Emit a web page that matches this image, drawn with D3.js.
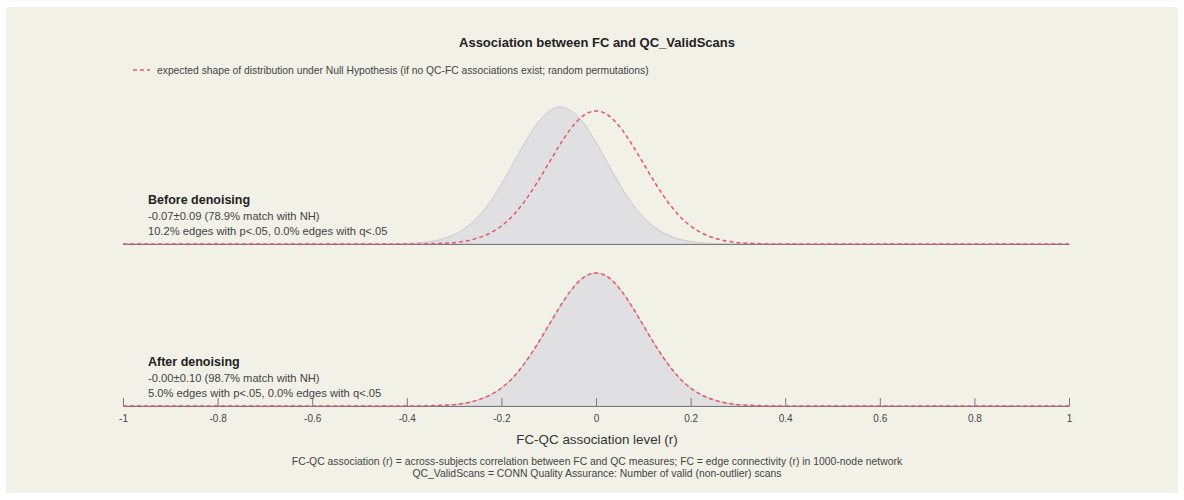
<!DOCTYPE html>
<html>
<head>
<meta charset="utf-8">
<script src="https://cdn.jsdelivr.net/npm/d3@7"></script>
<style>
  body { margin: 0; background: #fff; }
  text { font-family: "Liberation Sans", Arial, Helvetica, sans-serif; }
</style>
</head>
<body>
<div id="chart-area"></div>
<script>
// FC-QC association values (r) where the curves were read
const xGrid = [-1,
  -0.45, -0.425, -0.4, -0.375, -0.35, -0.325, -0.3, -0.275, -0.25, -0.225, -0.2, -0.175, -0.15,
  -0.125, -0.1, -0.075, -0.05, -0.025, 0, 0.025, 0.05, 0.075, 0.1, 0.125, 0.15, 0.175, 0.2,
  0.225, 0.25, 0.275, 0.3, 0.325, 0.35, 0.375, 0.4, 0.425, 0.45,
  1];

// null hypothesis shape (red dashed), same in both panels
const nullShape = [0,
  0, 0, 0, 0, 0.01, 0.02, 0.04, 0.09, 0.18, 0.32, 0.54, 0.86, 1.30,
  1.83, 2.42, 3.01, 3.52, 3.87, 3.99, 3.87, 3.52, 3.01, 2.42, 1.83, 1.30, 0.86, 0.54,
  0.32, 0.18, 0.09, 0.04, 0.02, 0.01, 0, 0, 0, 0,
  0];

// before denoising (grey)
const beforeShape = [0,
  0.002, 0.006, 0.015, 0.034, 0.074, 0.149, 0.28, 0.49, 0.81, 1.24, 1.79, 2.42, 3.05,
  3.60, 3.97, 4.11, 3.97, 3.60, 3.05, 2.42, 1.79, 1.24, 0.81, 0.49, 0.28, 0.149, 0.074,
  0.034, 0.015, 0.006, 0.002, 0, 0, 0, 0, 0, 0,
  0];

// after denoising (grey)
const afterShape = [0,
  0, 0, 0, 0, 0.01, 0.02, 0.04, 0.09, 0.18, 0.32, 0.54, 0.86, 1.30,
  1.83, 2.42, 3.01, 3.52, 3.87, 3.99, 3.87, 3.52, 3.01, 2.42, 1.83, 1.30, 0.86, 0.54,
  0.32, 0.18, 0.09, 0.04, 0.02, 0.01, 0, 0, 0, 0,
  0];

const tickValues = [-1, -0.8, -0.6, -0.4, -0.2, 0, 0.2, 0.4, 0.6, 0.8, 1];

const panelLabels = [
  ["Before denoising", "-0.07±0.09 (78.9% match with NH)", "10.2% edges with p<.05, 0.0% edges with q<.05"],
  ["After denoising", "-0.00±0.10 (98.7% match with NH)", "5.0% edges with p<.05, 0.0% edges with q<.05"]
];

const W = 1184, H = 500;
const red = "#e4566b";

const svg = d3.select("#chart-area").append("svg")
  .attr("width", W).attr("height", H);

svg.append("rect")
  .attr("x", 6).attr("y", 7)
  .attr("width", W - 12).attr("height", H - 14)
  .attr("fill", "#f2f1e8");

const x = d3.scaleLinear().domain([-1, 1]).range([123, 1069]);

const baselines = [244, 406];
const panelData = [beforeShape, afterShape];

baselines.forEach(function(b, i) {
  const y = d3.scaleLinear().domain([0, 4.5]).range([b, b - 150]);

  const pts = xGrid.map(function(v, k) { return { x: v, g: panelData[i][k], n: nullShape[k] }; });

  const area = d3.area()
    .x(function(d) { return x(d.x); })
    .y0(y(0))
    .y1(function(d) { return y(d.g); })
    .curve(d3.curveMonotoneX);

  svg.append("path")
    .datum(pts)
    .attr("d", area)
    .attr("fill", "#e0e0e3")
    .attr("stroke", "#c9c9c9")
    .attr("stroke-width", 1);

  // baseline / axis
  const axis = svg.append("g")
    .attr("transform", "translate(0," + b + ")")
    .call(d3.axisBottom(x)
      .tickValues(i === 1 ? tickValues : [])
      .tickSizeInner(i === 1 ? -8 : 0)
      .tickSizeOuter(0)
      .tickPadding(9)
      .tickFormat(function(d) { return d3.format("")(d).replace("−", "-"); }));
  axis.select(".domain").attr("stroke", "#7a7a7a");
  axis.selectAll(".tick line").attr("stroke", "#7a7a7a");
  axis.selectAll(".tick text")
    .attr("fill", "#444")
    .attr("font-size", "10px")
    .attr("font-family", "Liberation Sans, Arial, sans-serif");

  const line = d3.line()
    .x(function(d) { return x(d.x); })
    .y(function(d) { return y(d.n); })
    .curve(d3.curveMonotoneX);

  svg.append("path")
    .datum(pts)
    .attr("d", line)
    .attr("fill", "none")
    .attr("stroke", red)
    .attr("stroke-width", 1.5)
    .attr("stroke-dasharray", "4,3");

  const lbl = panelLabels[i];
  const top = b - 40;
  svg.append("text").attr("x", 148).attr("y", top)
    .attr("font-size", "12.5px").attr("font-weight", "bold").attr("fill", "#222")
    .text(lbl[0]);
  svg.append("text").attr("x", 148).attr("y", top + 16)
    .attr("font-size", "11.2px").attr("fill", "#444")
    .text(lbl[1]);
  svg.append("text").attr("x", 148).attr("y", top + 31)
    .attr("font-size", "11.2px").attr("fill", "#444")
    .text(lbl[2]);
});

// title
svg.append("text")
  .attr("x", 597).attr("y", 47)
  .attr("text-anchor", "middle")
  .attr("font-size", "13px").attr("font-weight", "bold").attr("fill", "#222")
  .text("Association between FC and QC_ValidScans");

// legend
svg.append("line")
  .attr("x1", 133).attr("x2", 150).attr("y1", 70).attr("y2", 70)
  .attr("stroke", red).attr("stroke-width", 1.5).attr("stroke-dasharray", "4,3");
svg.append("text")
  .attr("x", 157).attr("y", 73.5)
  .attr("font-size", "10.3px").attr("fill", "#444")
  .text("expected shape of distribution under Null Hypothesis (if no QC-FC associations exist; random permutations)");

// x label
svg.append("text")
  .attr("x", 597).attr("y", 444)
  .attr("text-anchor", "middle")
  .attr("font-size", "13.4px").attr("fill", "#333")
  .text("FC-QC association level (r)");

// footnotes
svg.append("text")
  .attr("x", 597).attr("y", 465)
  .attr("text-anchor", "middle")
  .attr("font-size", "10.4px").attr("fill", "#444")
  .text("FC-QC association (r) = across-subjects correlation between FC and QC measures; FC = edge connectivity (r) in 1000-node network");
svg.append("text")
  .attr("x", 597).attr("y", 477)
  .attr("text-anchor", "middle")
  .attr("font-size", "10.4px").attr("fill", "#444")
  .text("QC_ValidScans = CONN Quality Assurance: Number of valid (non-outlier) scans");
</script>
</body>
</html>
